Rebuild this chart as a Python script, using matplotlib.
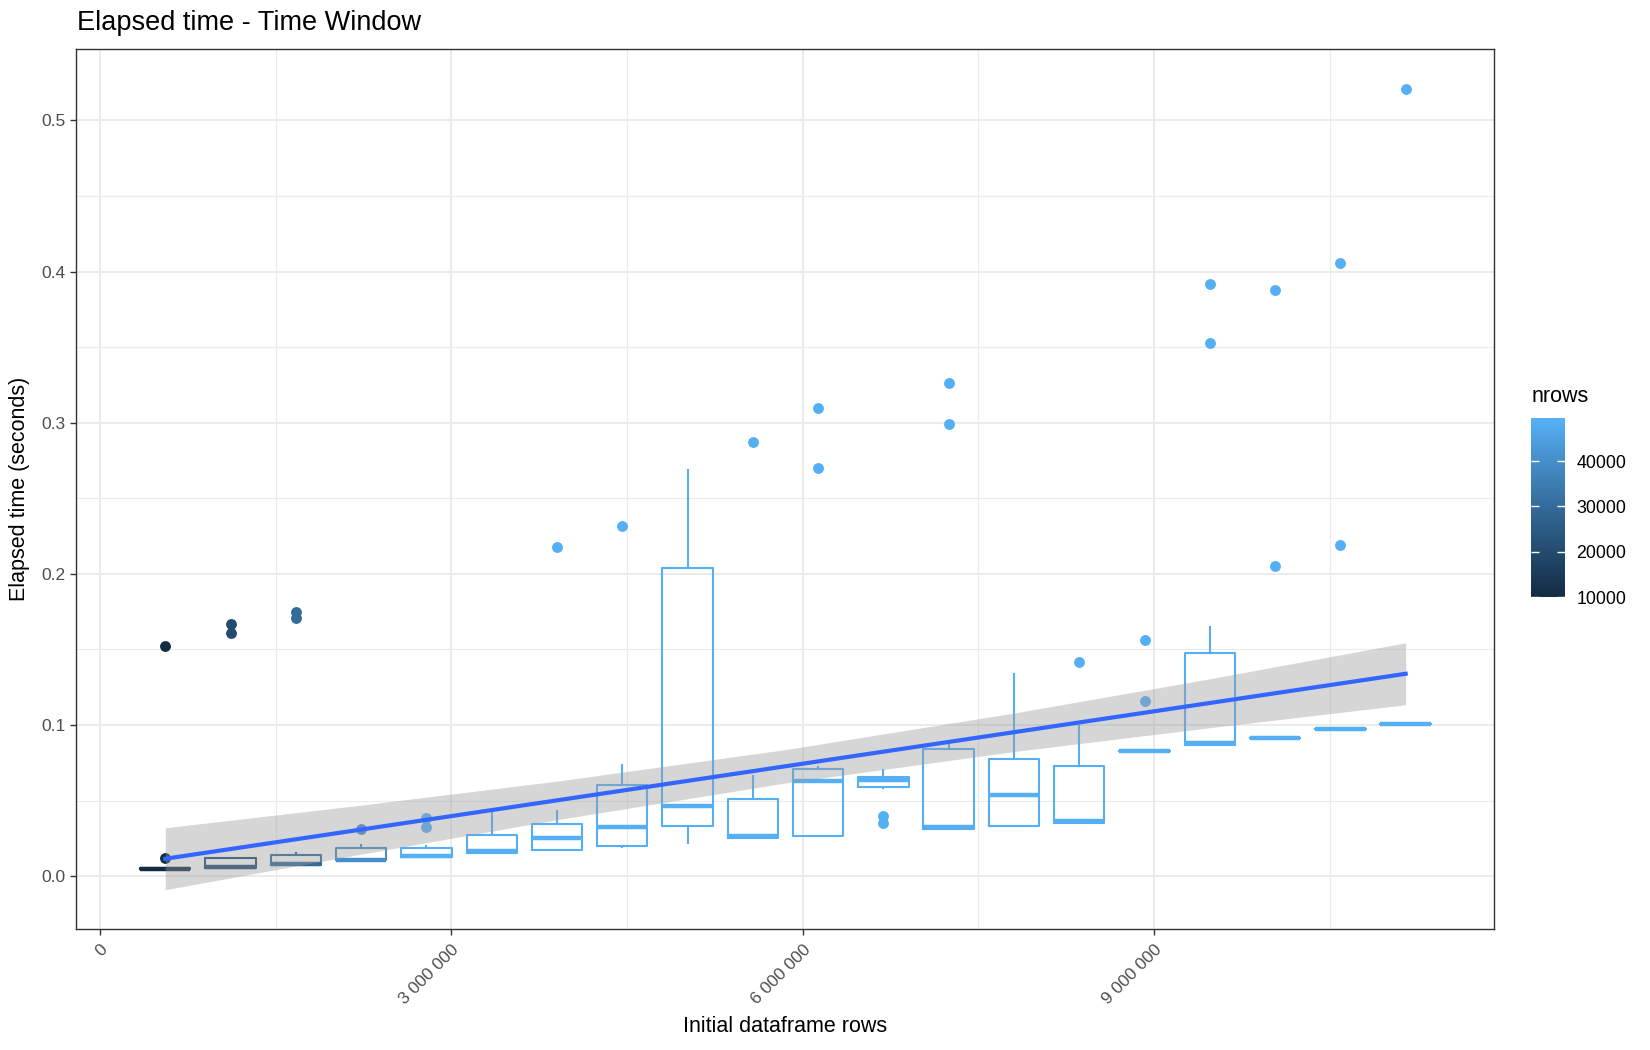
import matplotlib
matplotlib.use("Agg")
import matplotlib.pyplot as plt
from matplotlib.colors import LinearSegmentedColormap, Normalize
from matplotlib.ticker import FuncFormatter, MultipleLocator
import matplotlib.cm as cm

plt.rcParams["font.family"] = ["Liberation Sans", "DejaVu Sans"]

# group positions (initial dataframe rows)
init_rows = [557500, 1115000, 1672500, 2230000, 2787500, 3345000, 3902500,
             4460000, 5017500, 5575000, 6132500, 6690000, 7247500, 7805000,
             8362500, 8920000, 9477500, 10035000, 10592500, 11150000]
# colour value (nrows) per group
nrows = [10000, 20000, 30000, 40000, 49000, 49000, 49000, 49000, 49000, 49000,
         49000, 49000, 49000, 49000, 49000, 49000, 49000, 49000, 49000, 49000]

# box statistics (seconds)
q1 = [0.0045, 0.0054, 0.0077, 0.0105, 0.0127, 0.0155, 0.0175, 0.0202, 0.0330, 0.0253,
      0.0264, 0.0590, 0.0313, 0.0330, 0.0352, 0.0826, 0.0870, 0.0915, 0.0976, 0.1010]
med = [0.0050, 0.0060, 0.0082, 0.0110, 0.0135, 0.0167, 0.0253, 0.0324, 0.0462, 0.0268,
       0.0628, 0.0635, 0.0326, 0.0540, 0.0363, 0.0826, 0.0882, 0.0915, 0.0976, 0.1010]
q3 = [0.0055, 0.0121, 0.0139, 0.0187, 0.0187, 0.0275, 0.0348, 0.0606, 0.2040, 0.0508,
      0.0712, 0.0654, 0.0838, 0.0776, 0.0731, 0.0826, 0.1477, 0.0915, 0.0976, 0.1010]
w_lo = [0.0045, 0.0054, 0.0077, 0.0105, 0.0127, 0.0155, 0.0175, 0.0190, 0.0216, 0.0253,
        0.0264, 0.0580, 0.0313, 0.0330, 0.0352, 0.0826, 0.0870, 0.0915, 0.0976, 0.1010]
w_hi = [0.0055, 0.0121, 0.0153, 0.0203, 0.0200, 0.0420, 0.0430, 0.0738, 0.2690, 0.0660,
        0.0720, 0.0700, 0.0870, 0.1340, 0.0996, 0.0826, 0.1650, 0.0915, 0.0976, 0.1010]
outliers = [[0.152, 0.012], [0.167, 0.161], [0.175, 0.171], [0.031], [0.0385, 0.0324],
            [], [0.218], [0.232], [], [0.287],
            [0.310, 0.270], [0.0397, 0.0352], [0.326, 0.299], [], [0.142],
            [0.156, 0.116], [0.392, 0.353], [0.388, 0.205], [0.406, 0.219], [0.521]]

# linear fit and its confidence band
fit_x = [557500, 11150000]
fit_y = [0.0115, 0.1339]
band_x = [557500, 2232000, 3906000, 5859000, 7812000, 9486000, 11150000]
band_lo = [-0.0090, 0.0146, 0.0374, 0.0617, 0.0825, 0.0983, 0.1134]
band_hi = [0.0320, 0.0470, 0.0629, 0.0838, 0.1080, 0.1307, 0.1544]

cmap = LinearSegmentedColormap.from_list("gg", ["#132B43", "#336A98", "#56B1F7"])
norm = Normalize(vmin=10000, vmax=49500)

fig = plt.figure(figsize=(16.5, 10.5), dpi=100)
ax = fig.add_axes([0.0459, 0.1152, 0.8596, 0.8377])

for i in range(len(init_rows)):
    col = cmap(norm(nrows[i]))
    st = [{"q1": q1[i], "med": med[i], "q3": q3[i], "whislo": w_lo[i],
           "whishi": w_hi[i], "fliers": outliers[i]}]
    ax.bxp(st, positions=[init_rows[i]], widths=430000, showcaps=False,
           boxprops=dict(color=col, linewidth=1.5),
           whiskerprops=dict(color=col, linewidth=1.5),
           medianprops=dict(color=col, linewidth=3.2, solid_capstyle="butt"),
           flierprops=dict(marker="o", markerfacecolor=col, markeredgecolor=col,
                           markersize=6.8),
           manage_ticks=False, zorder=3)

ax.fill_between(band_x, band_lo, band_hi, color="#999999", alpha=0.4,
                linewidth=0, zorder=4)
ax.plot(fit_x, fit_y, color="#3366FF", linewidth=3, zorder=5)

ax.set_xlim(-207000, 11905000)
ax.set_ylim(-0.035, 0.547)
ax.xaxis.set_major_locator(MultipleLocator(3000000))
ax.xaxis.set_minor_locator(MultipleLocator(1500000))
ax.yaxis.set_major_locator(MultipleLocator(0.1))
ax.yaxis.set_minor_locator(MultipleLocator(0.05))
ax.xaxis.set_major_formatter(FuncFormatter(lambda v, p: f"{int(v):,}".replace(",", " ")))
ax.yaxis.set_major_formatter(FuncFormatter(lambda v, p: f"{v:.1f}"))
ax.grid(which="major", color="#EBEBEB", linewidth=1.4, zorder=0)
ax.grid(which="minor", color="#EBEBEB", linewidth=0.8, zorder=0)
ax.set_axisbelow(True)
ax.tick_params(which="major", length=4, width=1, color="#333333",
               labelsize=12.5, labelcolor="#4D4D4D")
ax.tick_params(axis="x", which="major", pad=5)
ax.tick_params(which="minor", length=0)
for lab in ax.get_xticklabels():
    lab.set_rotation(45)
    lab.set_ha("right")
    lab.set_va("top")
    lab.set_rotation_mode("anchor")
for s in ax.spines.values():
    s.set_color("#333333")
    s.set_linewidth(1)

ax.set_xlabel("Initial dataframe rows", fontsize=15.5, labelpad=7)
ax.set_ylabel("Elapsed time (seconds)", fontsize=15.5, labelpad=8)
fig.text(0.0465, 0.9715, "Elapsed time - Time Window", fontsize=19.5,
         ha="left", va="baseline")

cax = fig.add_axes([0.928, 0.4314, 0.0206, 0.1705])
cb = fig.colorbar(cm.ScalarMappable(norm=norm, cmap=cmap), cax=cax,
                  ticks=[10000, 20000, 30000, 40000])
cb.outline.set_visible(False)
cax.tick_params(left=True, right=True, labelleft=False, labelright=True,
                direction="in", color="white", length=6, width=1,
                labelsize=12.8, pad=8)
fig.text(0.928, 0.617, "nrows", fontsize=15.5, ha="left", va="baseline")

fig.savefig("out.png", dpi=100)
